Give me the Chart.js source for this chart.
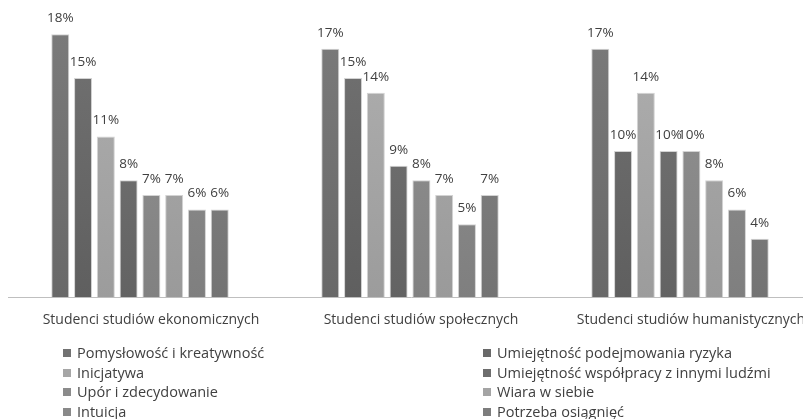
<!DOCTYPE html>
<html>
<head>
<meta charset="utf-8">
<script src="https://cdn.jsdelivr.net/npm/chart.js@4/dist/chart.umd.min.js"></script>
<style>
  html, body { margin: 0; padding: 0; background: #fff; overflow: hidden; }
  #wrap { position: relative; width: 815px; height: 356px; }
  #legend {
    position: absolute; left: 63px; top: 343px;
    display: grid; grid-template-columns: 420px auto;
    font-family: "Open Sans", sans-serif; font-size: 14.5px; color: #404040;
  }
  #legend div { height: 19.5px; line-height: 19.5px; white-space: nowrap; }
  #legend span { display: inline-block; width: 8px; height: 8px; margin-right: 6px; vertical-align: 1px; }
</style>
</head>
<body>
<div id="wrap"><canvas id="chart"></canvas></div>
<div id="legend"></div>
<script>
// categories on the x axis
const categories = [
  'Studenci studiów ekonomicznych',
  'Studenci studiów społecznych',
  'Studenci studiów humanistycznych'
];

// series names (legend order, row by row)
const seriesNames = [
  'Pomysłowość i kreatywność',
  'Umiejętność podejmowania ryzyka',
  'Inicjatywa',
  'Umiejętność współpracy z innymi ludźmi',
  'Upór i zdecydowanie',
  'Wiara w siebie',
  'Intuicja',
  'Potrzeba osiągnięć'
];

// values in % per series, one per category
const pomyslowosc = [18, 17, 17];
const ryzyko = [15, 15, 10];
const inicjatywa = [11, 14, 14];
const wspolpraca = [8, 9, 10];
const upor = [7, 8, 10];
const wiara = [7, 7, 8];
const intuicja = [6, 5, 6];
const potrzeba = [6, 7, 4];

const seriesValues = [pomyslowosc, ryzyko, inicjatywa, wspolpraca, upor, wiara, intuicja, potrzeba];
const seriesGrey = [0x72, 0x69, 0xa6, 0x6d, 0x8b, 0xa4, 0x89, 0x7d];

function grey(v) {
  v = Math.max(0, Math.min(255, Math.round(v)));
  return 'rgb(' + v + ',' + v + ',' + v + ')';
}

function barFill(g) {
  return (ctx) => {
    const area = ctx.chart.chartArea;
    if (!area) return grey(g);
    const grad = ctx.chart.ctx.createLinearGradient(0, area.top, 0, area.bottom);
    grad.addColorStop(0, grey(g + 10));
    grad.addColorStop(1, grey(g - 10));
    return grad;
  };
}

const datasets = seriesNames.map((name, i) => ({
  label: name,
  data: seriesValues[i],
  backgroundColor: barFill(seriesGrey[i]),
  borderColor: 'rgba(200,200,200,0.8)',
  borderWidth: 1,
  categoryPercentage: 0.675,
  barPercentage: 0.79
}));

// value labels above the bars + the baseline
const valueLabels = {
  id: 'valueLabels',
  beforeDatasetsDraw(chart) {
    const ctx = chart.ctx;
    const y = Math.round(chart.scales.y.getPixelForValue(0)) + 0.5;
    ctx.save();
    ctx.strokeStyle = '#bfbfbf';
    ctx.lineWidth = 1;
    ctx.beginPath();
    ctx.moveTo(8, y);
    ctx.lineTo(chart.width, y);
    ctx.stroke();
    ctx.restore();
  },
  afterDatasetsDraw(chart) {
    const ctx = chart.ctx;
    ctx.save();
    ctx.font = '13.5px "Open Sans", sans-serif';
    ctx.fillStyle = '#404040';
    ctx.textAlign = 'center';
    ctx.textBaseline = 'middle';
    chart.data.datasets.forEach((ds, i) => {
      chart.getDatasetMeta(i).data.forEach((bar, j) => {
        ctx.fillText(ds.data[j] + '%', bar.x, bar.y - 16);
      });
    });
    ctx.restore();
  }
};

new Chart(document.getElementById('chart'), {
  type: 'bar',
  data: { labels: categories, datasets: datasets },
  options: {
    responsive: true,
    maintainAspectRatio: false,
    animation: false,
    layout: { padding: { left: 5, right: 0, top: 5, bottom: 14 } },
    plugins: {
      legend: { display: false },
      tooltip: { enabled: false }
    },
    scales: {
      x: {
        grid: { display: false, drawTicks: false },
        border: { display: false },
        ticks: {
          color: '#404040',
          font: { family: 'Open Sans', size: 14 },
          padding: 14,
          labelOffset: 11,
          maxRotation: 0
        }
      },
      y: {
        display: false,
        min: 0,
        max: 20
      }
    }
  },
  plugins: [valueLabels]
});

// legend in two columns
const legend = document.getElementById('legend');
seriesNames.forEach((name, i) => {
  const item = document.createElement('div');
  const box = document.createElement('span');
  box.style.background = grey(seriesGrey[i]);
  item.appendChild(box);
  item.appendChild(document.createTextNode(name));
  legend.appendChild(item);
});
</script>
</body>
</html>
